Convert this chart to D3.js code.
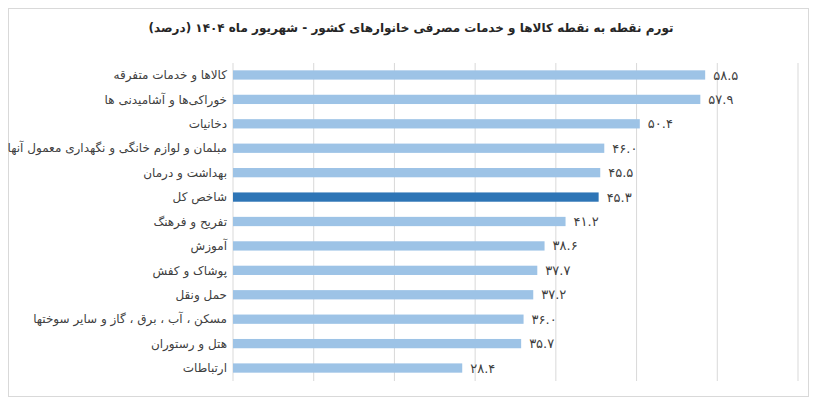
<!DOCTYPE html><html><head><meta charset="utf-8"><script src="https://cdn.jsdelivr.net/npm/d3@7"></script>
<style>body{margin:0;background:#fff}</style></head><body><svg id="c" width="819" height="404"></svg>
<script>
const categories=["کالاها و خدمات متفرقه","خوراکی‌ها و آشامیدنی ها","دخانیات","مبلمان و لوازم خانگی و نگهداری معمول آنها","بهداشت و درمان","شاخص کل","تفریح و فرهنگ","آموزش","پوشاک و کفش","حمل ونقل","مسکن ، آب ، برق ، گاز و سایر سوختها","هتل و رستوران","ارتباطات"];
const values=[58.5,57.9,50.4,46.0,45.5,45.3,41.2,38.6,37.7,37.2,36.0,35.7,28.4];
const highlight="شاخص کل";
const ticks=[0,10,20,30,40,50,60,70];
const title="تورم نقطه به نقطه کالاها و خدمات مصرفی خانوارهای کشور - شهریور ماه ۱۴۰۴ (درصد)";
const svg=d3.select("#c");
svg.append("rect").attr("x",8.5).attr("y",8.5).attr("width",800).attr("height",388).attr("fill","#fff").attr("stroke","#d9d9d9");
const x=d3.scaleLinear().domain([0,70]).range([233,798]);
const y=d3.scaleBand().domain(categories).range([63,380]).paddingInner(0.62).paddingOuter(0.3);
svg.append("g").selectAll("line").data(ticks).join("line").attr("x1",d=>x(d)).attr("x2",d=>x(d)).attr("y1",63).attr("y2",381).attr("stroke","#d9d9d9");
svg.append("g").selectAll("rect").data(values).join("rect").attr("x",x(0)).attr("y",(d,i)=>y(categories[i])).attr("width",d=>x(d)-x(0)).attr("height",y.bandwidth()).attr("fill",(d,i)=>categories[i]===highlight?"#2e75b6":"#9dc3e6");
const fa=d=>d.toFixed(1).replace(/\d/g,c=>"۰۱۲۳۴۵۶۷۸۹"[c]);
svg.append("g").selectAll("text").data(values).join("text").attr("x",d=>x(d)+8).attr("y",(d,i)=>y(categories[i])+y.bandwidth()/2).attr("dy","0.35em").attr("font-family","DejaVu Sans").attr("font-size",13).attr("fill","#404040").attr("direction","ltr").text(fa);
svg.append("g").selectAll("text").data(categories).join("text").attr("x",227).attr("y",d=>y(d)+y.bandwidth()/2).attr("dy","0.35em").attr("text-anchor","end").attr("font-family","DejaVu Sans").attr("font-size",12).attr("fill","#404040").text(d=>d);
svg.append("text").attr("x",411).attr("y",32).attr("text-anchor","middle").attr("font-family","DejaVu Sans").attr("font-weight","bold").attr("font-size",12).attr("fill","#262626").attr("direction","rtl").text(title);
</script></body></html>
